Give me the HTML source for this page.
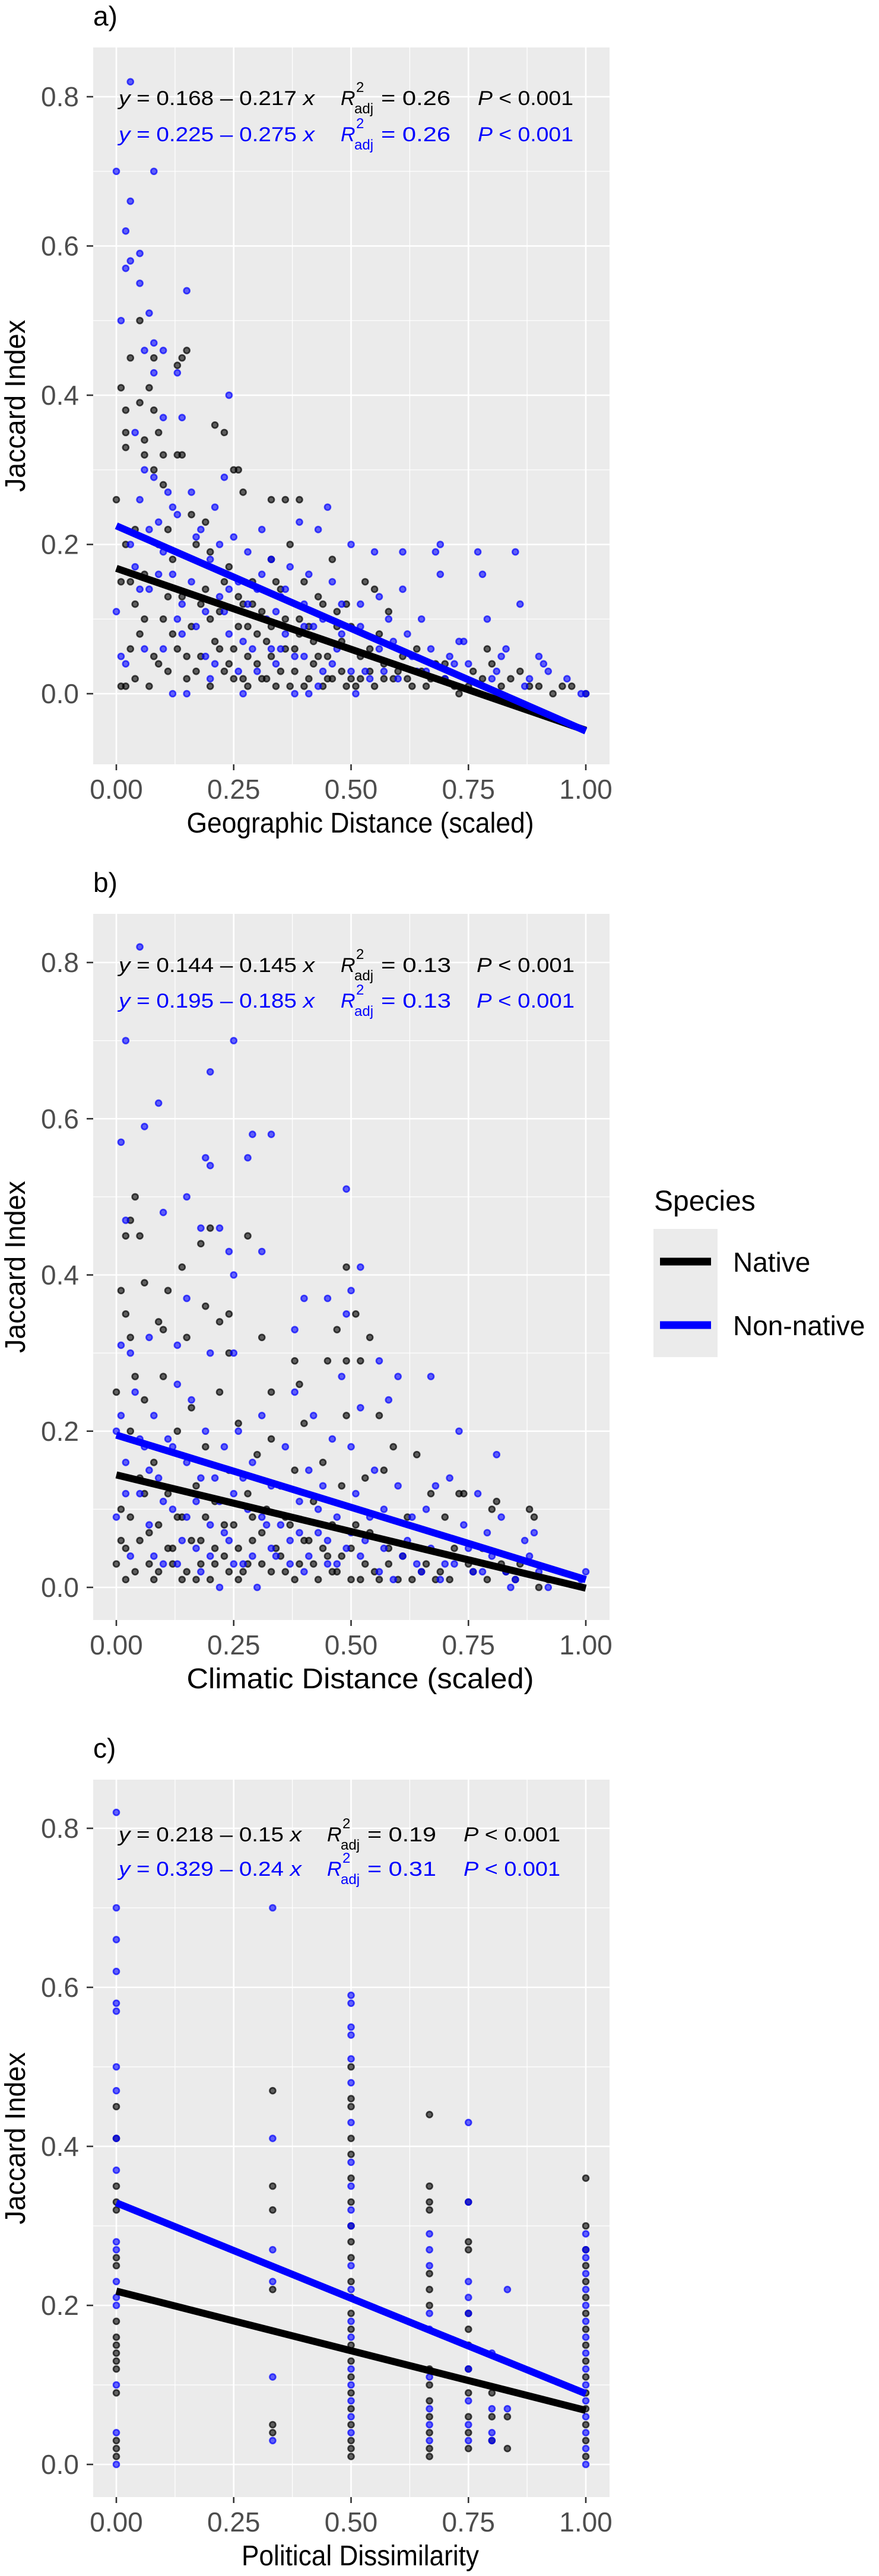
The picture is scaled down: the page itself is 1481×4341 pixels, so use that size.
<!DOCTYPE html>
<html><head><meta charset="utf-8"><title>Jaccard Index vs distances</title>
<style>
html,body{margin:0;padding:0;background:#fff;}
svg{display:block;font-family:"Liberation Sans",Arial,sans-serif;}
</style></head>
<body>
<svg id="fig" width="1481" height="4341" viewBox="0 0 1481 4341" xmlns="http://www.w3.org/2000/svg"></svg>
<script>
// ---------- DATA ----------
const xTicks = [0, 0.25, 0.5, 0.75, 1];
const xTickLabels = ["0.00", "0.25", "0.50", "0.75", "1.00"];
const yTicks = [0, 0.2, 0.4, 0.6, 0.8];
const yTickLabels = ["0.0", "0.2", "0.4", "0.6", "0.8"];

// regression coefficients [intercept, slope]
const aNatFit = [0.168, -0.217];
const aNonFit = [0.225, -0.275];
const bNatFit = [0.144, -0.145];
const bNonFit = [0.195, -0.185];
const cNatFit = [0.218, -0.15];
const cNonFit = [0.329, -0.24];

const aNatLabel = ["y = 0.168 \u2013 0.217 x", "= 0.26", "< 0.001"];
const aNonLabel = ["y = 0.225 \u2013 0.275 x", "= 0.26", "< 0.001"];
const bNatLabel = ["y = 0.144 \u2013 0.145 x", "= 0.13", "< 0.001"];
const bNonLabel = ["y = 0.195 \u2013 0.185 x", "= 0.13", "< 0.001"];
const cNatLabel = ["y = 0.218 \u2013 0.15 x", "= 0.19", "< 0.001"];
const cNonLabel = ["y = 0.329 \u2013 0.24 x", "= 0.31", "< 0.001"];

// points as flat [x, y, x, y, ...]
const aNat = [0,0.26,0.01,0.41,0.02,0.38,0.02,0.35,0.02,0.33,0.01,0.15,0.02,0.2,0.03,0.45,0.04,0.22,0.05,0.39,0.05,0.5,0.06,0.34,0.06,0.32,0.07,0.41,0.08,0.45,0.08,0.38,0.08,0.3,0.09,0.35,0.1,0.32,0.1,0.28,0.13,0.44,0.14,0.45,0.15,0.46,0.13,0.32,0.14,0.32,0.21,0.36,0.23,0.35,0.25,0.3,0.26,0.3,0.27,0.27,0.33,0.26,0.36,0.26,0.39,0.26,0.01,0.01,0.02,0.01,0.03,0.06,0.04,0.12,0.05,0.08,0.06,0.16,0.07,0.01,0.08,0.05,0.1,0.1,0.11,0.03,0.12,0.18,0.13,0.06,0.14,0.13,0.15,0.02,0.16,0.09,0.17,0.2,0.18,0.05,0.19,0.14,0.2,0.01,0.21,0.07,0.22,0.11,0.23,0.03,0.24,0.17,0.25,0.06,0.26,0.13,0.27,0.02,0.28,0.09,0.29,0.15,0.3,0.04,0.31,0.11,0.32,0.07,0.33,0.18,0.34,0.01,0.35,0.14,0.36,0.06,0.37,0.2,0.38,0.03,0.39,0.1,0.4,0.15,0.41,0.02,0.42,0.07,0.43,0.13,0.44,0.01,0.45,0.05,0.46,0.18,0.47,0.09,0.48,0.03,0.49,0.12,0.5,0.02,0.52,0.05,0.53,0.15,0.55,0.01,0.56,0.08,0.58,0.11,0.6,0.03,0.62,0.02,0.64,0.06,0.66,0.01,0.68,0.04,0.7,0.02,0.73,0.0,0.76,0.03,0.79,0.06,0.82,0.01,0.86,0.03,0.9,0.01,0.93,0.0,0.97,0.01,1.0,0.0,0.03,0.15,0.09,0.2,0.11,0.22,0.16,0.24,0.19,0.23,0.2,0.19,0.24,0.04,0.28,0.01,0.31,0.02,0.35,0.03,0.37,0.01,0.42,0.04,0.45,0.02,0.33,0.09,0.27,0.12,0.39,0.08,0.47,0.11,0.51,0.01,0.54,0.03,0.57,0.02,
0.04,0.02,0.06,0.1,0.09,0.04,0.11,0.13,0.12,0.08,0.15,0.05,0.17,0.03,0.18,0.12,0.2,0.1,0.22,0.06,0.23,0.15,0.25,0.02,0.26,0.09,0.28,0.05,0.29,0.12,0.3,0.08,0.32,0.02,0.33,0.05,0.34,0.15,0.36,0.1,0.38,0.06,0.4,0.01,0.41,0.09,0.43,0.05,0.44,0.12,0.46,0.02,0.48,0.07,0.49,0.01,0.5,0.09,0.52,0.02,0.54,0.06,0.55,0.14,0.57,0.04,0.59,0.02,0.61,0.05,0.63,0.01,0.65,0.03,0.67,0.02,0.7,0.04,0.72,0.01,0.75,0.01,0.78,0.02,0.8,0.04,0.84,0.02,0.88,0.01,0.95,0.01];
const aNon = [0,0.7,0.0,0.11,0.01,0.5,0.02,0.57,0.02,0.62,0.03,0.66,0.03,0.58,0.03,0.82,0.04,0.35,0.05,0.59,0.05,0.55,0.06,0.46,0.07,0.51,0.08,0.43,0.08,0.47,0.08,0.7,0.1,0.46,0.1,0.37,0.13,0.43,0.14,0.37,0.15,0.54,0.24,0.4,0.03,0.2,0.04,0.17,0.05,0.26,0.06,0.3,0.07,0.14,0.08,0.29,0.09,0.23,0.1,0.06,0.11,0.27,0.12,0.0,0.13,0.24,0.14,0.12,0.15,0.0,0.16,0.27,0.17,0.09,0.18,0.22,0.19,0.05,0.2,0.18,0.21,0.25,0.22,0.13,0.23,0.29,0.24,0.08,0.25,0.21,0.26,0.15,0.27,0.0,0.28,0.19,0.29,0.06,0.3,0.14,0.31,0.22,0.32,0.1,0.33,0.18,0.34,0.04,0.35,0.13,0.36,0.08,0.37,0.17,0.38,0.0,0.39,0.23,0.4,0.12,0.41,0.0,0.42,0.09,0.43,0.22,0.44,0.03,0.45,0.25,0.46,0.15,0.47,0.06,0.48,0.12,0.5,0.2,0.51,0.0,0.52,0.09,0.53,0.03,0.55,0.19,0.56,0.13,0.57,0.03,0.59,0.07,0.61,0.19,0.61,0.14,0.63,0.05,0.65,0.1,0.66,0.03,0.68,0.19,0.69,0.2,0.69,0.16,0.71,0.05,0.73,0.07,0.75,0.04,0.77,0.19,0.78,0.16,0.79,0.1,0.81,0.03,0.83,0.06,0.85,0.19,0.86,0.12,0.88,0.02,0.9,0.05,0.92,0.03,0.96,0.02,0.99,0.0,1.0,0.0,0.02,0.04,0.01,0.05,0.06,0.06,0.09,0.16,0.12,0.16,0.14,0.08,0.2,0.02,0.23,0.11,0.26,0.03,0.35,0.06,0.4,0.05,0.43,0.01,
0.05,0.14,0.07,0.22,0.1,0.19,0.12,0.25,0.13,0.1,0.16,0.15,0.17,0.21,0.19,0.11,0.21,0.04,0.22,0.2,0.24,0.14,0.27,0.07,0.28,0.12,0.3,0.03,0.31,0.16,0.33,0.06,0.34,0.11,0.36,0.14,0.38,0.05,0.4,0.09,0.41,0.16,0.44,0.1,0.46,0.04,0.48,0.08,0.5,0.03,0.52,0.12,0.54,0.02,0.56,0.06,0.58,0.1,0.6,0.02,0.62,0.08,0.64,0.03,0.67,0.06,0.7,0.02,0.72,0.04,0.74,0.07,0.8,0.02,0.82,0.05,0.87,0.01,0.91,0.04];
const bNat = [0.02,0.45,0.03,0.47,0.04,0.5,0.05,0.45,0.01,0.38,0.02,0.35,0.03,0.32,0.06,0.39,0.09,0.34,0.1,0.33,0.11,0.38,0.14,0.41,0.15,0.32,0.18,0.44,0.19,0.36,0.2,0.46,0.22,0.34,0.24,0.35,0.24,0.3,0.28,0.45,0.31,0.32,0.33,0.25,0.38,0.29,0.39,0.26,0.45,0.29,0.47,0.33,0.49,0.41,0.49,0.29,0.51,0.35,0.52,0.29,0.54,0.32,0.56,0.22,0.0,0.25,0.01,0.1,0.02,0.05,0.03,0.2,0.04,0.27,0.05,0.14,0.06,0.24,0.07,0.03,0.08,0.16,0.09,0.08,0.1,0.27,0.11,0.12,0.12,0.05,0.13,0.2,0.14,0.09,0.15,0.02,0.16,0.23,0.17,0.13,0.18,0.06,0.19,0.18,0.2,0.01,0.21,0.11,0.22,0.25,0.23,0.04,0.24,0.15,0.25,0.08,0.26,0.21,0.27,0.02,0.28,0.12,0.29,0.06,0.3,0.17,0.31,0.03,0.32,0.1,0.33,0.19,0.34,0.05,0.35,0.13,0.36,0.02,0.37,0.08,0.38,0.15,0.39,0.03,0.4,0.21,0.41,0.06,0.42,0.11,0.43,0.01,0.44,0.16,0.45,0.04,0.46,0.08,0.47,0.02,0.48,0.13,0.49,0.22,0.5,0.05,0.52,0.01,0.53,0.14,0.54,0.07,0.55,0.02,0.57,0.15,0.58,0.05,0.59,0.18,0.6,0.01,0.62,0.09,0.64,0.17,0.65,0.02,0.67,0.12,0.68,0.01,0.7,0.09,0.72,0.05,0.73,0.12,0.74,0.12,0.76,0.02,0.78,0.05,0.8,0.1,0.81,0.11,0.83,0.02,0.86,0.03,0.88,0.1,0.89,0.09,0.9,0.0,0.92,0.01,0.0,0.03,0.02,0.01,0.05,0.06,0.08,0.01,0.12,0.03,0.17,0.01,0.21,0.03,0.26,0.01,
0.01,0.06,0.03,0.09,0.04,0.02,0.06,0.12,0.07,0.07,0.09,0.02,0.11,0.05,0.13,0.09,0.14,0.01,0.16,0.06,0.18,0.03,0.19,0.09,0.21,0.05,0.23,0.08,0.24,0.02,0.26,0.05,0.28,0.03,0.29,0.09,0.31,0.07,0.33,0.02,0.35,0.04,0.36,0.09,0.38,0.01,0.4,0.06,0.42,0.03,0.44,0.05,0.46,0.02,0.48,0.04,0.5,0.01,0.51,0.08,0.53,0.03,0.56,0.01,0.58,0.03,0.61,0.04,0.63,0.01,0.66,0.03,0.69,0.02,0.71,0.01,0.75,0.03,0.79,0.01,0.82,0.03,0.85,0.01];
const bNon = [0.05,0.82,0.02,0.7,0.25,0.7,0.2,0.66,0.09,0.62,0.06,0.59,0.01,0.57,0.29,0.58,0.33,0.58,0.19,0.55,0.2,0.54,0.28,0.55,0.49,0.51,0.15,0.5,0.02,0.47,0.1,0.48,0.18,0.46,0.22,0.46,0.24,0.43,0.31,0.43,0.25,0.4,0.5,0.38,0.52,0.41,0.4,0.37,0.45,0.37,0.15,0.37,0.38,0.33,0.49,0.35,0.01,0.31,0.03,0.3,0.07,0.32,0.13,0.31,0.2,0.3,0.25,0.3,0.56,0.29,0.67,0.27,0.6,0.27,0.0,0.2,0.01,0.22,0.02,0.16,0.04,0.25,0.05,0.12,0.06,0.18,0.07,0.08,0.08,0.22,0.09,0.14,0.1,0.03,0.11,0.19,0.12,0.1,0.13,0.26,0.14,0.06,0.15,0.16,0.16,0.24,0.17,0.11,0.18,0.02,0.19,0.2,0.2,0.08,0.21,0.14,0.22,0.0,0.23,0.18,0.24,0.06,0.25,0.12,0.26,0.2,0.27,0.03,0.28,0.1,0.29,0.16,0.3,0.0,0.31,0.22,0.32,0.08,0.33,0.13,0.34,0.04,0.36,0.18,0.37,0.06,0.38,0.25,0.39,0.11,0.4,0.02,0.41,0.15,0.42,0.22,0.43,0.07,0.44,0.13,0.45,0.03,0.46,0.19,0.47,0.09,0.48,0.27,0.49,0.05,0.5,0.18,0.51,0.12,0.52,0.23,0.53,0.06,0.55,0.15,0.56,0.02,0.57,0.1,0.58,0.24,0.6,0.13,0.61,0.04,0.63,0.09,0.65,0.02,0.66,0.1,0.68,0.13,0.7,0.03,0.71,0.14,0.73,0.2,0.74,0.08,0.76,0.02,0.77,0.12,0.79,0.07,0.81,0.17,0.82,0.09,0.84,0.0,0.85,0.01,0.87,0.06,0.89,0.07,0.9,0.02,0.92,0.0,0.99,0.01,1.0,0.02,
0.0,0.09,0.02,0.12,0.03,0.04,0.05,0.19,0.07,0.15,0.08,0.04,0.1,0.11,0.12,0.18,0.13,0.03,0.15,0.09,0.17,0.05,0.18,0.14,0.2,0.04,0.22,0.11,0.23,0.07,0.25,0.03,0.27,0.14,0.29,0.04,0.31,0.09,0.33,0.05,0.35,0.08,0.37,0.03,0.39,0.07,0.41,0.04,0.43,0.1,0.45,0.06,0.47,0.03,0.5,0.07,0.52,0.04,0.54,0.09,0.57,0.05,0.59,0.01,0.62,0.06,0.64,0.03,0.67,0.05,0.69,0.01,0.72,0.03,0.75,0.05,0.78,0.02,0.8,0.04,0.83,0.02,0.88,0.04];
const cNat = [0,0.45,0,0.41,0,0.35,0,0.33,0,0.32,0,0.26,0,0.25,0,0.18,0,0.16,0,0.15,0,0.14,0,0.13,0,0.12,0,0.09,0,0.03,0,0.02,0,0.01,
0.333,0.47,0.333,0.35,0.333,0.32,0.333,0.22,0.333,0.05,0.333,0.04,
0.5,0.5,0.5,0.46,0.5,0.45,0.5,0.41,0.5,0.39,0.5,0.36,0.5,0.33,0.5,0.3,0.5,0.28,0.5,0.26,0.5,0.23,0.5,0.21,0.5,0.19,0.5,0.17,0.5,0.15,0.5,0.13,0.5,0.11,0.5,0.09,0.5,0.07,0.5,0.05,0.5,0.03,0.5,0.02,0.5,0.01,
0.667,0.44,0.667,0.35,0.667,0.33,0.667,0.32,0.667,0.24,0.667,0.22,0.667,0.2,0.667,0.12,0.667,0.1,0.667,0.08,0.667,0.06,0.667,0.04,0.667,0.02,0.667,0.01,
0.75,0.33,0.75,0.28,0.75,0.27,0.75,0.19,0.75,0.17,0.75,0.15,0.75,0.12,0.75,0.09,0.75,0.06,0.75,0.04,0.75,0.02,
0.8,0.09,0.8,0.06,0.8,0.03,0.833,0.06,0.833,0.02,
1,0.36,1,0.3,1,0.27,1,0.25,1,0.23,1,0.21,1,0.19,1,0.17,1,0.15,1,0.13,1,0.11,1,0.09,1,0.07,1,0.05,1,0.03,1,0.01];
const cNon = [0,0.82,0,0.7,0,0.66,0,0.62,0,0.58,0,0.57,0,0.5,0,0.47,0,0.41,0,0.37,0,0.28,0,0.27,0,0.23,0,0.21,0,0.2,0,0.1,0,0.04,0,0.0,
0.333,0.7,0.333,0.41,0.333,0.27,0.333,0.23,0.333,0.11,0.333,0.03,
0.5,0.59,0.5,0.58,0.5,0.55,0.5,0.54,0.5,0.51,0.5,0.48,0.5,0.43,0.5,0.38,0.5,0.35,0.5,0.32,0.5,0.3,0.5,0.25,0.5,0.22,0.5,0.18,0.5,0.16,0.5,0.12,0.5,0.1,0.5,0.08,0.5,0.06,0.5,0.04,
0.667,0.29,0.667,0.27,0.667,0.25,0.667,0.19,0.667,0.17,0.667,0.11,0.667,0.07,0.667,0.05,0.667,0.03,
0.75,0.43,0.75,0.33,0.75,0.23,0.75,0.21,0.75,0.19,0.75,0.12,0.75,0.08,0.75,0.05,0.75,0.03,
0.8,0.14,0.8,0.07,0.8,0.04,0.8,0.03,0.833,0.22,0.833,0.07,
1,0.29,1,0.27,1,0.26,1,0.24,1,0.22,1,0.2,1,0.18,1,0.16,1,0.14,1,0.12,1,0.1,1,0.08,1,0.06,1,0.04,1,0.02,1,0.0];

// ---------- DRAW ----------
const NS = "http://www.w3.org/2000/svg";
const svg = document.getElementById("fig");
function mk(tag, attrs, parent, text) {
  const e = document.createElementNS(NS, tag);
  for (const k in attrs) e.setAttribute(k, attrs[k]);
  if (text !== undefined) e.textContent = text;
  (parent || svg).appendChild(e);
  return e;
}

const panels = [
  {id:"a", label:"a)", top:80, bottom:1288, y0:1169, y08:163, xTitle:"Geographic Distance (scaled)",
   nat:aNat, non:aNon, natFit:aNatFit, nonFit:aNonFit, natLab:aNatLabel, nonLab:aNonLabel,
   l1:177, l2:238, eqEnd:530, rX:574, rEnd:759, pX:805, pEnd:966},
  {id:"b", label:"b)", top:1540, bottom:2730, y0:2675, y08:1622, xTitle:"Climatic Distance (scaled)",
   nat:bNat, non:bNon, natFit:bNatFit, nonFit:bNonFit, natLab:bNatLabel, nonLab:bNonLabel,
   l1:1638, l2:1698, eqEnd:530, rX:574, rEnd:760, pX:803, pEnd:968},
  {id:"c", label:"c)", top:2999, bottom:4208, y0:4153, y08:3081, xTitle:"Political Dissimilarity",
   nat:cNat, non:cNon, natFit:cNatFit, nonFit:cNonFit, natLab:cNatLabel, nonLab:cNonLabel,
   l1:3103, l2:3161, eqEnd:508, rX:551, rEnd:735, pX:781, pEnd:944}
];
const L = 157, R = 1027, X0 = 196, X1 = 987;

panels.forEach(p => {
  const g = mk("g", {});
  
  
  const sx = v => X0 + v * (X1 - X0);
  const sy = v => p.y0 - v * (p.y0 - p.y08) / 0.8;
  const yMin = (p.y0 - p.bottom) / ((p.y0 - p.y08) / 0.8);
  const yMax = (p.y0 - p.top) / ((p.y0 - p.y08) / 0.8);

  const pl = mk("text", {x:157, y:p.top - 37, "font-size":46, fill:"#000"}, g, p.label);
  
  

  const bg = mk("rect", {x:L, y:p.top, width:R - L, height:p.bottom - p.top, fill:"#ebebeb"}, g);
  
  

  for (let i = 0; i < xTicks.length - 1; i++) {
    const xm = (xTicks[i] + xTicks[i+1]) / 2;
    const ln = mk("line", {x1:sx(xm), x2:sx(xm), y1:p.top, y2:p.bottom, stroke:"#fff", "stroke-width":1.3}, g);
    
    
  }
  for (let v = -0.1; v < yMax; v += 0.2) {
    if (v < yMin) continue;
    const ln = mk("line", {x1:L, x2:R, y1:sy(v), y2:sy(v), stroke:"#fff", "stroke-width":1.3}, g);
    
    
  }
  xTicks.forEach((t, i) => {
    const ln = mk("line", {x1:sx(t), x2:sx(t), y1:p.top, y2:p.bottom, stroke:"#fff", "stroke-width":2.6}, g);
    
    
    const tk = mk("line", {x1:sx(t), x2:sx(t), y1:p.bottom, y2:p.bottom + 10, stroke:"#333", "stroke-width":2.6}, g);
    
    
    const tl = mk("text", {x:sx(t), y:p.bottom + 58, "font-size":46, fill:"#4d4d4d", "text-anchor":"middle"}, g, xTickLabels[i]);
    
    
  });
  yTicks.forEach((t, i) => {
    const ln = mk("line", {x1:L, x2:R, y1:sy(t), y2:sy(t), stroke:"#fff", "stroke-width":2.6}, g);
    
    
    const tk = mk("line", {x1:L - 11, x2:L, y1:sy(t), y2:sy(t), stroke:"#333", "stroke-width":2.6}, g);
    
    
    const tl = mk("text", {x:133, y:sy(t) + 16, "font-size":46, fill:"#4d4d4d", "text-anchor":"end"}, g, yTickLabels[i]);
    
    
  });

  const drawPts = (arr, col, name) => {
    const pg = mk("g", {}, g);
    
    
    for (let i = 0; i < arr.length; i += 2) {
      const c = mk("circle", {cx:sx(arr[i]), cy:sy(arr[i+1]), r:5, fill:col, "fill-opacity":0.6, stroke:col, "stroke-opacity":0.7, "stroke-width":2.6}, pg);
      
      
    }
  };
  drawPts(p.nat, "#000", "native-points");
  drawPts(p.non, "#0000ff", "non-native-points");

  const fitLine = (fit, col, name) => {
    const ln = mk("line", {x1:sx(0), y1:sy(fit[0]), x2:sx(1), y2:sy(fit[0] + fit[1]), stroke:col, "stroke-width":12}, g);
    
    
  };
  fitLine(p.natFit, "#000", "native-fit-line");
  fitLine(p.nonFit, "#0000ff", "non-native-fit-line");

  const ann = (lab, yb, col, name) => {
    const ag = mk("g", {fill:col, "font-size":34}, g);
    
    
    const eq = mk("text", {x:200, y:yb, textLength:p.eqEnd - 200, lengthAdjust:"spacingAndGlyphs"}, ag);
    const parts = lab[0].split(" ");
    mk("tspan", {"font-style":"italic"}, eq, "y");
    mk("tspan", {}, eq, " " + parts.slice(1, parts.length - 1).join(" ") + " ");
    mk("tspan", {"font-style":"italic"}, eq, "x");
    mk("text", {x:p.rX, y:yb, "font-style":"italic"}, ag, "R");
    mk("text", {x:p.rX + 26, y:yb - 22, "font-size":24}, ag, "2");
    mk("text", {x:p.rX + 23, y:yb + 14, "font-size":24}, ag, "adj");
    mk("text", {x:p.rX + 68, y:yb, textLength:p.rEnd - p.rX - 68, lengthAdjust:"spacingAndGlyphs"}, ag, lab[1]);
    const pt = mk("text", {x:p.pX, y:yb, textLength:p.pEnd - p.pX, lengthAdjust:"spacingAndGlyphs"}, ag);
    mk("tspan", {"font-style":"italic"}, pt, "P");
    mk("tspan", {}, pt, " " + lab[2]);
  };
  ann(p.natLab, p.l1, "#000", "native-equation");
  ann(p.nonLab, p.l2, "#0000ff", "non-native-equation");

  const xt = mk("text", {x:(L + R) / 2 + 15, y:p.bottom + 115, "font-size":48, fill:"#000", "text-anchor":"middle", textLength: p.id === "c" ? 400 : 585, lengthAdjust:"spacingAndGlyphs"}, g, p.xTitle);
  
  
  const cy = (p.top + p.bottom) / 2;
  const yt = mk("text", {x:0, y:0, "font-size":48, fill:"#000", "text-anchor":"middle", transform:`translate(42 ${cy}) rotate(-90)`, textLength:290, lengthAdjust:"spacingAndGlyphs"}, g, "Jaccard Index");
  
  
});

const lg = mk("g", {});


const lt = mk("text", {x:1102, y:2040, "font-size":48, fill:"#000"}, lg, "Species");


const lb = mk("rect", {x:1101, y:2071, width:108, height:216, fill:"#ebebeb"}, lg);


const e1 = mk("g", {}, lg);


mk("line", {x1:1112, x2:1198, y1:2126, y2:2126, stroke:"#000", "stroke-width":13}, e1);
mk("text", {x:1235, y:2143, "font-size":46, fill:"#000"}, e1, "Native");
const e2 = mk("g", {}, lg);


mk("line", {x1:1112, x2:1198, y1:2233, y2:2233, stroke:"#0000ff", "stroke-width":13}, e2);
mk("text", {x:1235, y:2250, "font-size":46, fill:"#000"}, e2, "Non-native");
</script>
</body></html>
